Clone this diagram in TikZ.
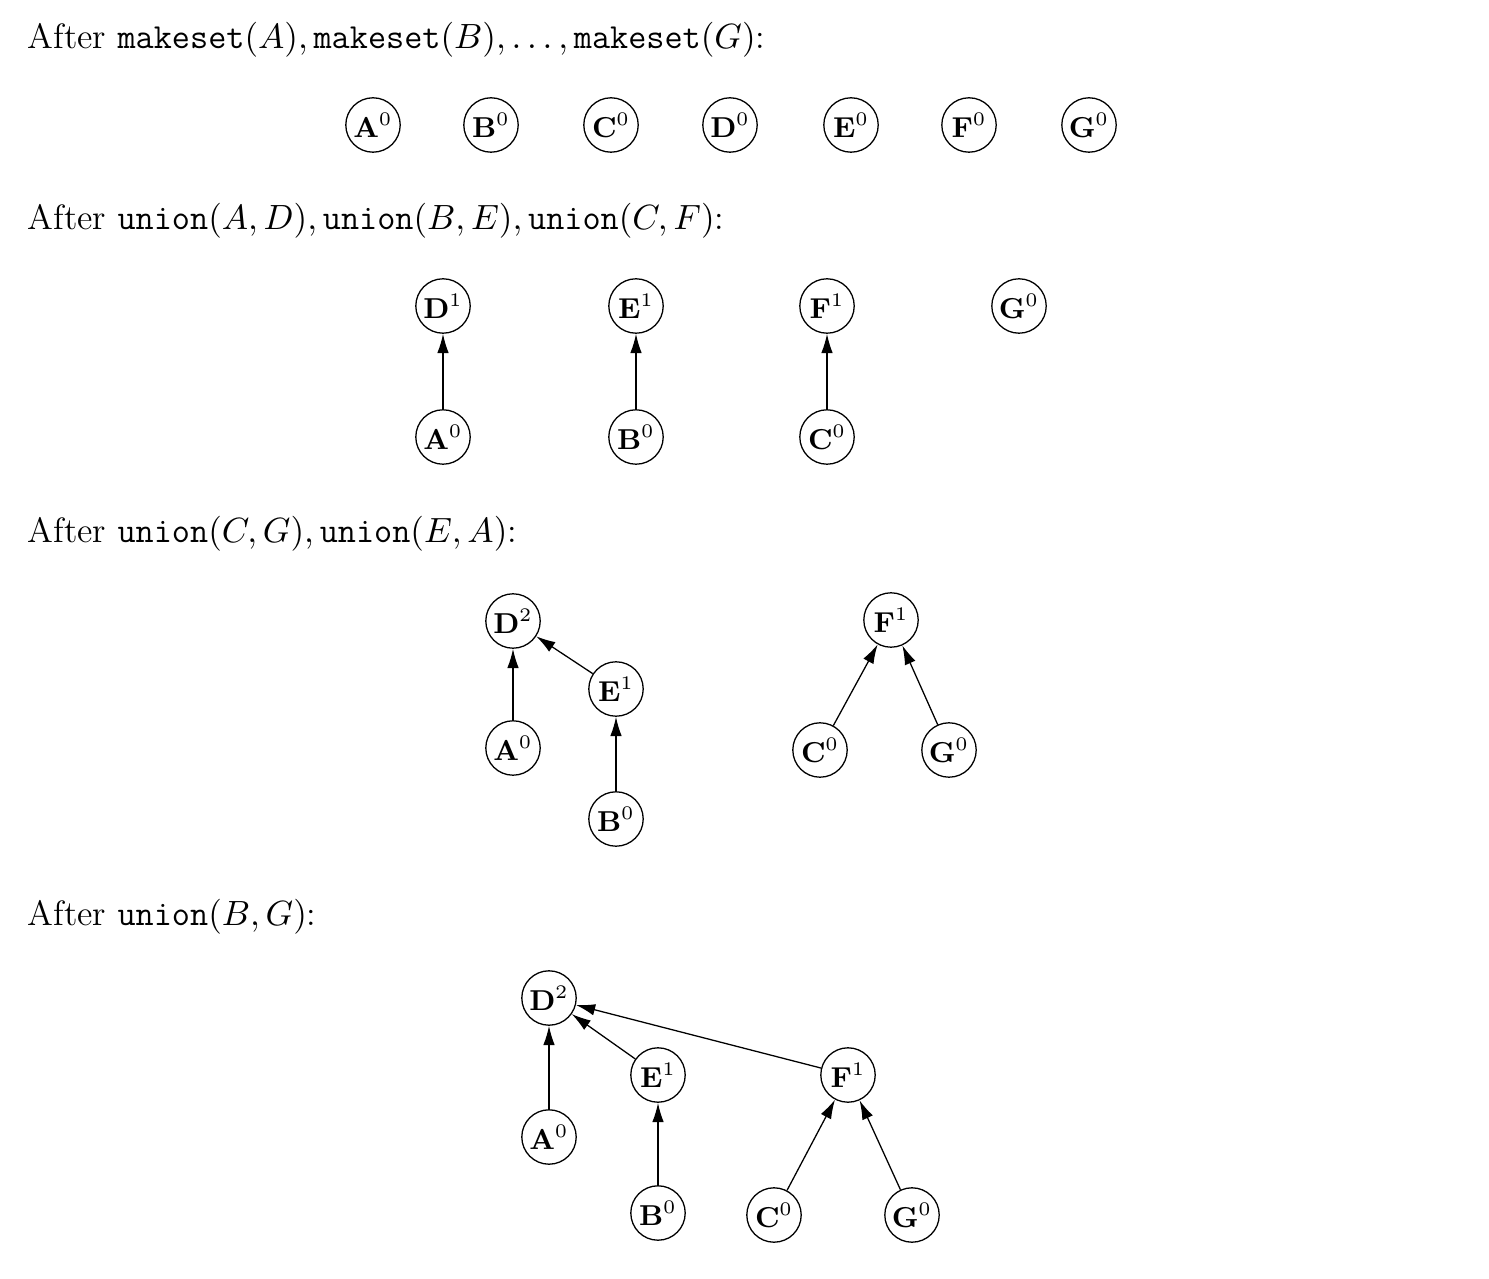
\documentclass[tikz,border=0pt]{standalone}
\usetikzlibrary{arrows.meta}
\begin{document}
\begin{tikzpicture}[x=0.3125pt,y=-0.3125pt,
  vtx/.style={circle,draw,line width=0.4pt,minimum size=17pt,inner sep=0pt,font=\fontsize{9}{10.8}\selectfont},
  hdr/.style={anchor=base west,inner sep=0pt,font=\fontsize{11}{13.2}\selectfont},
  par/.style={-{Latex[length=6pt,width=3.6pt]},line width=0.4pt}]
\useasboundingbox (0,0) rectangle (1489,1279);
% headers
\node[hdr] (h1) at (27,49) {After $\texttt{makeset}(A), \texttt{makeset}(B), \ldots, \texttt{makeset}(G)$:};
\node[hdr] (h2) at (27,230) {After $\texttt{union}(A,D), \texttt{union}(B,E), \texttt{union}(C,F)$:};
\node[hdr] (h3) at (27,543) {After $\texttt{union}(C,G), \texttt{union}(E,A)$:};
\node[hdr] (h4) at (27,925) {After $\texttt{union}(B,G)$:};
% row 1
\node[vtx] (a1) at (373,125) {$\mathbf{A}^0$};
\node[vtx] (b1) at (491,125) {$\mathbf{B}^0$};
\node[vtx] (c1) at (611,125) {$\mathbf{C}^0$};
\node[vtx] (d1) at (730,125) {$\mathbf{D}^0$};
\node[vtx] (e1) at (851,125) {$\mathbf{E}^0$};
\node[vtx] (f1) at (969,125) {$\mathbf{F}^0$};
\node[vtx] (g1) at (1089,125) {$\mathbf{G}^0$};
% row 2
\node[vtx] (d2) at (443,306) {$\mathbf{D}^1$};
\node[vtx] (e2) at (636,306) {$\mathbf{E}^1$};
\node[vtx] (f2) at (827,306) {$\mathbf{F}^1$};
\node[vtx] (g2) at (1019,306) {$\mathbf{G}^0$};
\node[vtx] (a2) at (443,437) {$\mathbf{A}^0$};
\node[vtx] (b2) at (636,437) {$\mathbf{B}^0$};
\node[vtx] (c2) at (827,437) {$\mathbf{C}^0$};
\draw[par] (a2) -- (d2);
\draw[par] (b2) -- (e2);
\draw[par] (c2) -- (f2);
% row 3
\node[vtx] (d3) at (513,621) {$\mathbf{D}^2$};
\node[vtx] (e3) at (616,689) {$\mathbf{E}^1$};
\node[vtx] (a3) at (513,748) {$\mathbf{A}^0$};
\node[vtx] (b3) at (616,819) {$\mathbf{B}^0$};
\node[vtx] (f3) at (891,620) {$\mathbf{F}^1$};
\node[vtx] (c3) at (820,750) {$\mathbf{C}^0$};
\node[vtx] (g3) at (949,750) {$\mathbf{G}^0$};
\draw[par] (a3) -- (d3);
\draw[par] (e3) -- (d3);
\draw[par] (b3) -- (e3);
\draw[par] (c3) -- (f3);
\draw[par] (g3) -- (f3);
% row 4
\node[vtx] (d4) at (549,998) {$\mathbf{D}^2$};
\node[vtx] (e4) at (658,1075) {$\mathbf{E}^1$};
\node[vtx] (f4) at (848,1075) {$\mathbf{F}^1$};
\node[vtx] (a4) at (549,1137) {$\mathbf{A}^0$};
\node[vtx] (b4) at (658,1213) {$\mathbf{B}^0$};
\node[vtx] (c4) at (774,1215) {$\mathbf{C}^0$};
\node[vtx] (g4) at (912,1215) {$\mathbf{G}^0$};
\draw[par] (a4) -- (d4);
\draw[par] (e4) -- (d4);
\draw[par] (f4) -- (d4);
\draw[par] (b4) -- (e4);
\draw[par] (c4) -- (f4);
\draw[par] (g4) -- (f4);
\end{tikzpicture}
\end{document}
